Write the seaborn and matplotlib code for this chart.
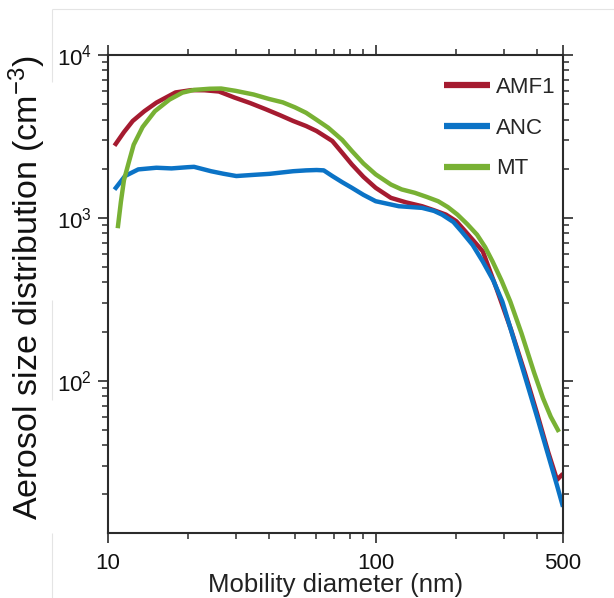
import numpy as np
import pandas as pd
import matplotlib
matplotlib.use("Agg")
import matplotlib.pyplot as plt
import seaborn as sns
from matplotlib.ticker import FixedLocator, FixedFormatter, LogLocator, LogFormatterSciNotation, NullFormatter
from matplotlib.lines import Line2D

# ---- data ----
series_names = ["AMF1", "ANC", "MT"]
series_colors = ["#a51b30", "#0b73c6", "#78b134"]

amf1_d = [10.6, 11.5, 12.4, 13.7, 15.2, 17.9, 20.5, 23, 26, 29.7, 34, 38.9, 44, 49.2, 55, 60.2,
          68.9, 75, 81.5, 90, 100, 114, 130, 149, 165, 183, 200, 216, 251, 282, 320, 360, 400,
          440, 475, 500]
amf1_n = [2763, 3350, 3920, 4500, 5080, 5865, 6060, 6050, 5945, 5460, 5050, 4625, 4250, 3920,
          3650, 3400, 2953, 2500, 2120, 1780, 1524, 1322, 1240, 1175, 1110, 1043, 950, 824, 621,
          369, 205, 112, 63, 36.5, 24.6, 26.8]

anc_d = [10.6, 11.6, 13, 15.2, 17.3, 19.9, 21, 24.3, 27, 30.2, 35, 40.2, 49.2, 55, 60.2, 64,
         68.9, 75, 81.5, 90, 100, 122, 149, 165, 177, 195, 209, 230, 251, 275, 297, 330, 360,
         400, 440, 475, 500]
anc_n = [1486, 1800, 1977, 2024, 2005, 2040, 2050, 1927, 1860, 1800, 1830, 1857, 1927, 1950,
         1960, 1950, 1800, 1650, 1524, 1380, 1261, 1175, 1148, 1100, 1043, 940, 824, 680, 538,
         410, 305, 172, 107, 60, 35, 22.7, 16.8]

mt_d = [10.9, 11.2, 11.5, 12, 12.5, 13.5, 15, 17, 19, 21, 24, 26.5, 30, 35, 40, 45, 50, 55, 60,
        66.5, 75, 81.5, 90, 100, 114, 125, 140, 155, 171, 186, 202, 220, 239, 256, 273, 295,
        318, 350, 390, 421, 450, 483]
mt_n = [861, 1250, 1700, 2200, 2800, 3600, 4500, 5300, 5850, 6080, 6180, 6200, 6000, 5700,
        5350, 5100, 4750, 4400, 4000, 3565, 3000, 2565, 2150, 1843, 1596, 1490, 1420, 1340, 1261,
        1160, 1043, 910, 785, 660, 538, 410, 305, 195, 112, 78, 60, 48.4]

x_ticks = [10, 100, 500]
x_ticklabels = ["10", "100", "500"]
x_minor = [20, 30, 40, 50, 60, 70, 80, 90, 200, 300, 400]

df = pd.concat([
    pd.DataFrame({"d": amf1_d, "n": amf1_n, "series": "AMF1"}),
    pd.DataFrame({"d": anc_d, "n": anc_n, "series": "ANC"}),
    pd.DataFrame({"d": mt_d, "n": mt_n, "series": "MT"}),
], ignore_index=True)

# ---- style ----
sns.set_style("ticks")
plt.rcParams['font.family'] = ['Liberation Sans', 'DejaVu Sans']
plt.rcParams['mathtext.fontset'] = 'custom'
plt.rcParams['mathtext.rm'] = 'Liberation Sans'
plt.rcParams['mathtext.it'] = 'Liberation Sans:italic'
plt.rcParams['mathtext.bf'] = 'Liberation Sans:bold'
plt.rcParams['lines.solid_joinstyle'] = 'round'
plt.rcParams['lines.solid_capstyle'] = 'butt'

W, H = 614, 598
fig = plt.figure(figsize=(W / 100, H / 100), dpi=100)
left, right, top, bottom = 107.7, 563, 54.7, 533
ax = fig.add_axes([left / W, 1 - bottom / H, (right - left) / W, (bottom - top) / H])

sns.lineplot(data=df, x="d", y="n", hue="series", hue_order=series_names,
             palette=dict(zip(series_names, series_colors)), linewidth=3.2,
             sort=False, estimator=None, ax=ax, legend=True)

ax.set_xscale("log")
ax.set_yscale("log")
ax.set_xlim(10, 500)
ax.set_ylim(11.6, 1e4)

ax.xaxis.set_major_locator(FixedLocator(x_ticks))
ax.xaxis.set_major_formatter(FixedFormatter(x_ticklabels))
ax.xaxis.set_minor_locator(FixedLocator(x_minor))
ax.xaxis.set_minor_formatter(NullFormatter())
ax.yaxis.set_major_locator(LogLocator(base=10, numticks=10))
ax.yaxis.set_major_formatter(LogFormatterSciNotation())
ax.yaxis.set_minor_locator(LogLocator(base=10, subs=np.arange(2, 10), numticks=20))
ax.yaxis.set_minor_formatter(NullFormatter())

spine_c = "#2b2b2b"
for s in ax.spines.values():
    s.set_visible(True)
    s.set_linewidth(1.5)
    s.set_color(spine_c)
ax.tick_params(which="both", direction="out", top=True, right=True, color=spine_c,
               labelsize=16, labelcolor="#111111")
ax.tick_params(axis="y", which="both", pad=4.5)
ax.tick_params(axis="x", which="both", pad=7.5)
ax.tick_params(which="major", length=7, width=1.2)
ax.tick_params(which="minor", length=4, width=1.1)

ax.set_xlabel("Mobility diameter (nm)", fontsize=18.5, color="#222222")
ax.set_ylabel("Aerosol size distribution (cm$^{-3}$)", fontsize=24.5, color="#111111")
ax.xaxis.set_label_coords(0.5, -0.084)
ax.yaxis.set_label_coords(-0.131, 0.514)

handles, labels = ax.get_legend_handles_labels()
new_handles = [Line2D([], [], color=h.get_color(), linewidth=4.5) for h in handles]
ax.legend(new_handles, labels, loc="upper left", bbox_to_anchor=(0.738, 0.953),
          frameon=False, fontsize=16, handlelength=2.07, handletextpad=0.27,
          labelspacing=0.88, borderpad=0, borderaxespad=0)

# faint frame lines of the reference picture
lc = "#e4e4e4"
fig.add_artist(Line2D([52 / W, 1], [1 - 9.3 / H, 1 - 9.3 / H], color=lc, lw=0.8, transform=fig.transFigure))
for y0, y1 in [(9.3, 82), (300, 400), (533, 598)]:
    fig.add_artist(Line2D([52 / W, 52 / W], [1 - y0 / H, 1 - y1 / H], color=lc, lw=0.8,
                          transform=fig.transFigure))

fig.savefig("out.png", dpi=100)
